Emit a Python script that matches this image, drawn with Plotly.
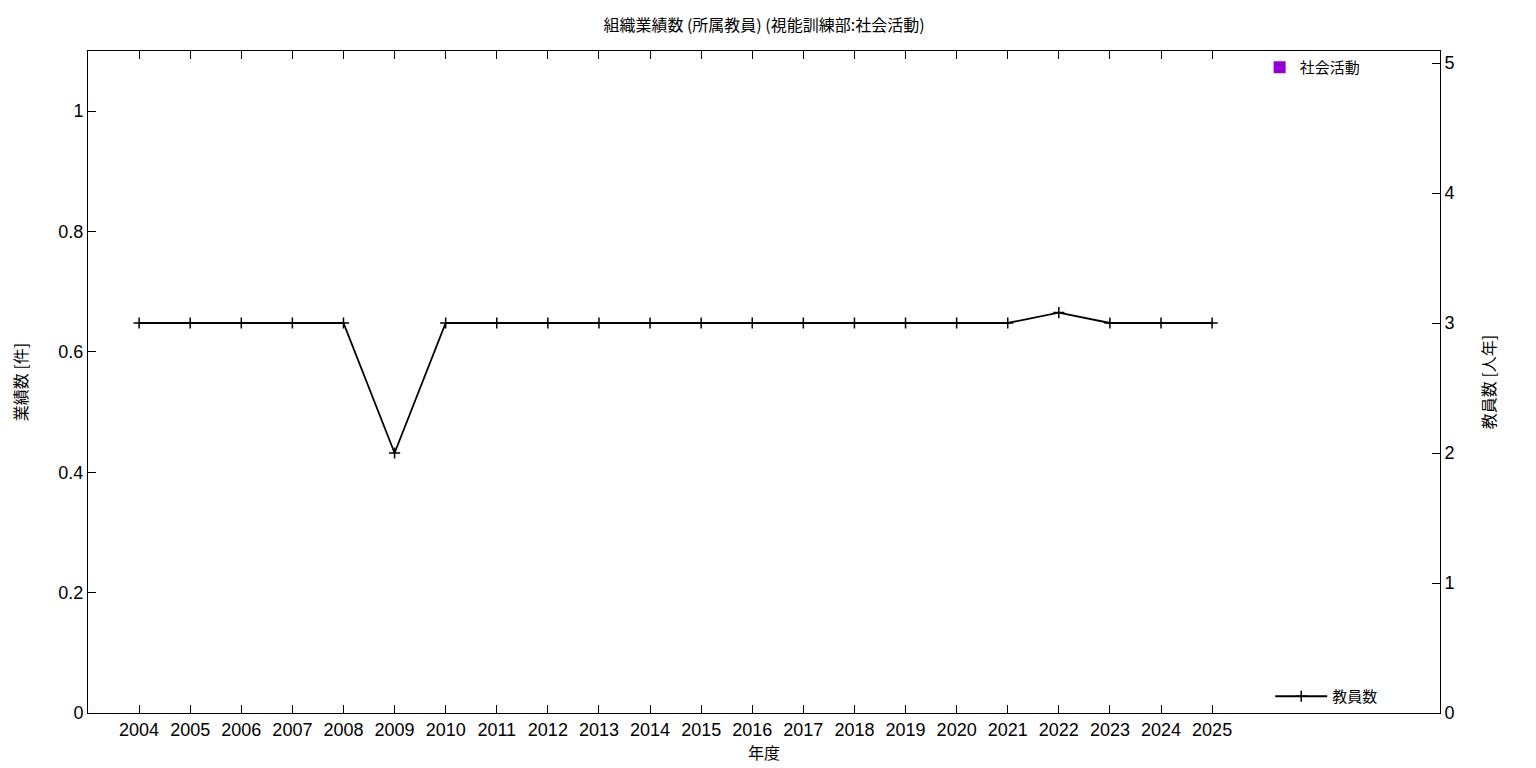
import plotly.graph_objects as go

years = list(range(2004, 2026))
activity_counts = [0] * len(years)  # 社会活動 (業績数)
staff = [3, 3, 3, 3, 3, 2, 3, 3, 3, 3, 3, 3, 3, 3, 3, 3, 3, 3, 3.08, 3, 3, 3]  # 教員数

title = "組織業績数 (所属教員) (視能訓練部:社会活動)"
num_font = "Liberation Sans, Arial, sans-serif"
cjk_font = "Noto Sans CJK JP, Noto Sans, sans-serif"

fig = go.Figure()
fig.add_trace(go.Bar(
    x=years, y=activity_counts, name="社会活動",
    marker=dict(color="#9400D3", line=dict(color="black", width=0)),
    yaxis="y", legend="legend", width=0.5,
))
fig.add_trace(go.Scatter(
    x=years, y=staff, name="教員数", mode="lines+markers",
    line=dict(color="black", width=1.8),
    marker=dict(symbol="cross-thin", size=8, line=dict(color="black", width=1.5)),
    yaxis="y2", legend="legend2",
))

axis_common = dict(
    showgrid=False, zeroline=False, showline=True, linecolor="black", linewidth=1,
    ticks="inside", ticklen=8, tickcolor="black",
    tickfont=dict(size=18, color="black", family=num_font),
)

fig.update_layout(
    width=1536, height=768,
    paper_bgcolor="white", plot_bgcolor="white",
    margin=dict(l=80, r=104, t=43, b=63, autoexpand=False),
    font=dict(family=cjk_font, color="black"),
    title=dict(text=title, xref="paper", x=0.5, xanchor="center", y=0.985, yanchor="top",
               font=dict(size=16, color="black", family=cjk_font)),
    xaxis=dict(**axis_common, range=[2003, 2029.46], tickmode="array",
               tickvals=years, ticktext=[str(y) for y in years], mirror="ticks",
               title=dict(text="年度", font=dict(size=16, family=cjk_font), standoff=4)),
    yaxis=dict(**axis_common, range=[0, 1.1], tickvals=[0, 0.2, 0.4, 0.6, 0.8, 1],
               ticktext=["0", "0.2", "0.4", "0.6", "0.8", "1"],
               title=dict(text="業績数 [件]", font=dict(size=16, family=cjk_font), standoff=34)),
    yaxis2=dict(**axis_common, overlaying="y", side="right", range=[0, 662 / 130],
                tickvals=[0, 1, 2, 3, 4, 5],
                title=dict(text="教員数 [人年]", font=dict(size=16, family=cjk_font), standoff=30)),
    legend=dict(x=0.945, y=1.0, xanchor="right", yanchor="top",
                bgcolor="rgba(0,0,0,0)", font=dict(size=15, family=cjk_font)),
    legend2=dict(x=0.958, y=0.0, xanchor="right", yanchor="bottom", itemwidth=52,
                 bgcolor="rgba(0,0,0,0)", font=dict(size=15, family=cjk_font)),
    showlegend=True,
)

fig.write_html("out.html")
